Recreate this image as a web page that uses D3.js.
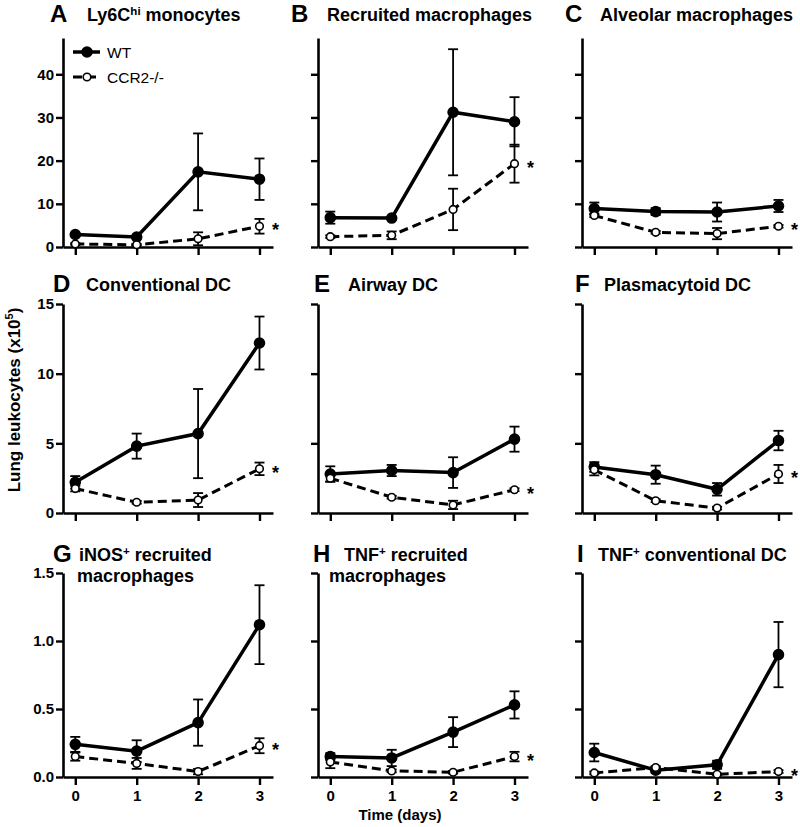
<!DOCTYPE html>
<html>
<head>
<meta charset="utf-8">
<script src="https://cdn.jsdelivr.net/npm/d3@7"></script>
<style>
  body { margin: 0; background: #fff; }
  svg { font-family: 'Liberation Sans', Arial, sans-serif; }
</style>
</head>
<body>
<svg width="800" height="827"></svg>
<script>
// days after infection
const days = [0, 1, 2, 3];

const letters = ['A', 'B', 'C', 'D', 'E', 'F', 'G', 'H', 'I'];
// odd parts are superscripts
const titleLine1 = [
  ['Ly6C', 'hi', ' monocytes'],
  ['Recruited macrophages'],
  ['Alveolar macrophages'],
  ['Conventional DC'],
  ['Airway DC'],
  ['Plasmacytoid DC'],
  ['iNOS', '+', ' recruited'],
  ['TNF', '+', ' recruited'],
  ['TNF', '+', ' conventional DC']
];
const titleLine2 = ['', '', '', '', '', '', 'macrophages', 'macrophages', ''];

const seriesNames = ['WT', 'CCR2-/-'];

const rowTicks = [[0, 10, 20, 30, 40], [0, 5, 10, 15], [0, 0.5, 1.0, 1.5]];
const rowMax = [48.4, 15, 1.5];

// WT mean / SEM (x10^5)
const wtMean = [
  [2.9, 2.3, 17.4, 15.7],
  [6.8, 6.7, 31.2, 29.0],
  [8.9, 8.2, 8.1, 9.5],
  [2.2, 4.8, 5.7, 12.2],
  [2.8, 3.05, 2.9, 5.3],
  [3.3, 2.75, 1.7, 5.2],
  [0.24, 0.19, 0.40, 1.12],
  [0.15, 0.14, 0.33, 0.53],
  [0.18, 0.05, 0.09, 0.90]
];
const wtSem = [
  [0.4, 0.3, 8.9, 4.8],
  [1.4, 0.3, 14.6, 5.7],
  [1.4, 0.8, 2.2, 1.4],
  [0.45, 0.9, 3.2, 1.9],
  [0.55, 0.4, 1.1, 0.9],
  [0.35, 0.65, 0.45, 0.7],
  [0.055, 0.08, 0.17, 0.29],
  [0.025, 0.06, 0.11, 0.1],
  [0.065, 0.02, 0.03, 0.24]
];
// CCR2-/- mean / SEM
const koMean = [
  [0.7, 0.5, 1.9, 4.8],
  [2.4, 2.7, 8.7, 19.3],
  [7.3, 3.4, 3.1, 4.8],
  [1.75, 0.77, 0.93, 3.17],
  [2.5, 1.13, 0.58, 1.67],
  [3.1, 0.88, 0.35, 2.8],
  [0.15, 0.10, 0.04, 0.23],
  [0.11, 0.045, 0.035, 0.15],
  [0.03, 0.07, 0.02, 0.04]
];
const koSem = [
  [0.2, 0.2, 1.5, 1.7],
  [0.3, 0.9, 4.8, 4.4],
  [0.4, 0.3, 1.3, 0.3],
  [0.2, 0.1, 0.5, 0.45],
  [0.25, 0.1, 0.3, 0.1],
  [0.4, 0.1, 0.1, 0.65],
  [0.03, 0.04, 0.02, 0.055],
  [0.045, 0.01, 0.01, 0.035],
  [0.01, 0.01, 0.005, 0.01]
];

// layout
const colX = [63, 318, 582];
const rowZero = [247, 513, 777];
const rowTop = [38, 304, 573];
const rowFmt = [d3.format('d'), d3.format('d'), d3.format('.1f')];
const letterX = [50, 291, 565, 53, 314, 575, 53, 313, 577];
const titleX = [87, 327, 600, 86, 348, 604, 79, 344, 598];
const title2X = [0, 0, 0, 0, 0, 0, 77, 329, 0];
const titleY = [21, 291, 561];

const svg = d3.select('svg');

function addTitle(g, parts, x, y) {
  const t = g.append('text')
      .attr('x', x)
      .attr('y', y)
      .attr('font-size', 18)
      .attr('font-weight', 'bold');
  parts.forEach((p, k) => {
    if (k % 2 === 1) {
      t.append('tspan').attr('font-size', 11.5).attr('dy', -6.5).text(p);
    } else {
      t.append('tspan').attr('dy', k > 0 ? 6.5 : 0).text(p);
    }
  });
}

function drawSeries(g, x, y, mean, sem, filled, dashed) {
  const pts = days.map((d, k) => ({ day: d, v: mean[k], e: sem[k] }));

  const eb = g.append('g')
      .attr('stroke', '#000')
      .attr('stroke-width', 1.8);
  pts.forEach((p) => {
    const cx = x(p.day);
    const y1 = y(Math.max(0, p.v - p.e)), y2 = y(p.v + p.e);
    eb.append('line').attr('x1', cx).attr('x2', cx).attr('y1', y1).attr('y2', y2);
    eb.append('line').attr('x1', cx - 5).attr('x2', cx + 5).attr('y1', y1).attr('y2', y1);
    eb.append('line').attr('x1', cx - 5).attr('x2', cx + 5).attr('y1', y2).attr('y2', y2);
  });

  const line = d3.line()
      .x((d) => x(d.day))
      .y((d) => y(d.v));

  g.append('path')
      .datum(pts)
      .attr('fill', 'none')
      .attr('stroke', '#000')
      .attr('stroke-width', filled ? 3.5 : 3)
      .attr('stroke-dasharray', dashed ? '9,5' : null)
      .attr('d', line);

  g.selectAll(null)
      .data(pts)
      .enter().append('circle')
      .attr('cx', (d) => x(d.day))
      .attr('cy', (d) => y(d.v))
      .attr('r', filled ? 5 : 3.8)
      .attr('fill', filled ? '#000' : '#fff')
      .attr('stroke', '#000')
      .attr('stroke-width', 1.6);
}

letters.forEach((letter, i) => {
  const row = Math.floor(i / 3), col = i % 3;
  const ax = colX[col];
  const g = svg.append('g');

  const x = d3.scaleLinear().domain([-0.2, 3.22]).range([ax, ax + 210]);
  const y = d3.scaleLinear().domain([0, rowMax[row]]).range([rowZero[row], rowTop[row]]);

  // y axis
  const yAxis = d3.axisLeft(y)
      .tickValues(rowTicks[row])
      .tickSize(7)
      .tickSizeOuter(0)
      .tickPadding(2)
      .tickFormat(col === 0 ? rowFmt[row] : () => '');
  const ya = g.append('g')
      .attr('transform', 'translate(' + ax + ',0)')
      .call(yAxis);

  // x axis
  const xAxis = d3.axisBottom(x)
      .tickValues(days)
      .tickSize(8)
      .tickSizeOuter(0)
      .tickPadding(5)
      .tickFormat(row === 2 ? d3.format('d') : () => '');
  const xa = g.append('g')
      .attr('transform', 'translate(0,' + rowZero[row] + ')')
      .call(xAxis);

  [ya, xa].forEach((a) => {
    a.select('.domain').attr('stroke-width', 2.6);
    a.selectAll('.tick line').attr('stroke-width', 2.4);
    a.selectAll('.tick text')
        .attr('font-family', "'Liberation Sans', Arial, sans-serif")
        .attr('font-size', 15)
        .attr('font-weight', 'bold')
        .attr('fill', '#000');
  });

  // titles
  g.append('text')
      .attr('x', letterX[i])
      .attr('y', titleY[row] + 1)
      .attr('font-size', 24)
      .attr('font-weight', 'bold')
      .text(letter);
  addTitle(g, titleLine1[i], titleX[i], titleY[row]);
  if (titleLine2[i]) {
    addTitle(g, [titleLine2[i]], title2X[i], titleY[row] + 21);
  }

  drawSeries(g, x, y, wtMean[i], wtSem[i], true, false);
  drawSeries(g, x, y, koMean[i], koSem[i], false, true);

  // significance star next to the last CCR2-/- point
  g.append('text')
      .attr('x', x(3) + 16)
      .attr('y', y(koMean[i][3]) + 10)
      .attr('text-anchor', 'middle')
      .attr('font-size', 18)
      .attr('font-weight', 'bold')
      .text('*');

  // legend in panel A
  if (i === 0) {
    const lg = g.append('g');
    seriesNames.forEach((name, k) => {
      const ly = 52 + k * 25;
      lg.append('line')
          .attr('x1', 73).attr('x2', 100)
          .attr('y1', ly).attr('y2', ly)
          .attr('stroke', '#000')
          .attr('stroke-width', k === 0 ? 3.5 : 3)
          .attr('stroke-dasharray', k === 0 ? null : '9,5');
      lg.append('circle')
          .attr('cx', 87).attr('cy', ly)
          .attr('r', k === 0 ? 5 : 3.8)
          .attr('fill', k === 0 ? '#000' : '#fff')
          .attr('stroke', '#000')
          .attr('stroke-width', 1.6);
      lg.append('text')
          .attr('x', 107)
          .attr('y', ly + 5.5)
          .attr('font-size', 15.5)
          .text(name);
    });
  }
});

// shared axis titles
const yl = svg.append('text')
    .attr('transform', 'translate(20,400) rotate(-90)')
    .attr('text-anchor', 'middle')
    .attr('font-size', 17)
    .attr('font-weight', 'bold');
yl.append('tspan').text('Lung leukocytes (x10');
yl.append('tspan').attr('font-size', 11).attr('dy', -7).text('5');
yl.append('tspan').attr('dy', 7).text(')');

svg.append('text')
    .attr('x', 400)
    .attr('y', 820)
    .attr('text-anchor', 'middle')
    .attr('font-size', 15)
    .attr('font-weight', 'bold')
    .text('Time (days)');
</script>
</body>
</html>
